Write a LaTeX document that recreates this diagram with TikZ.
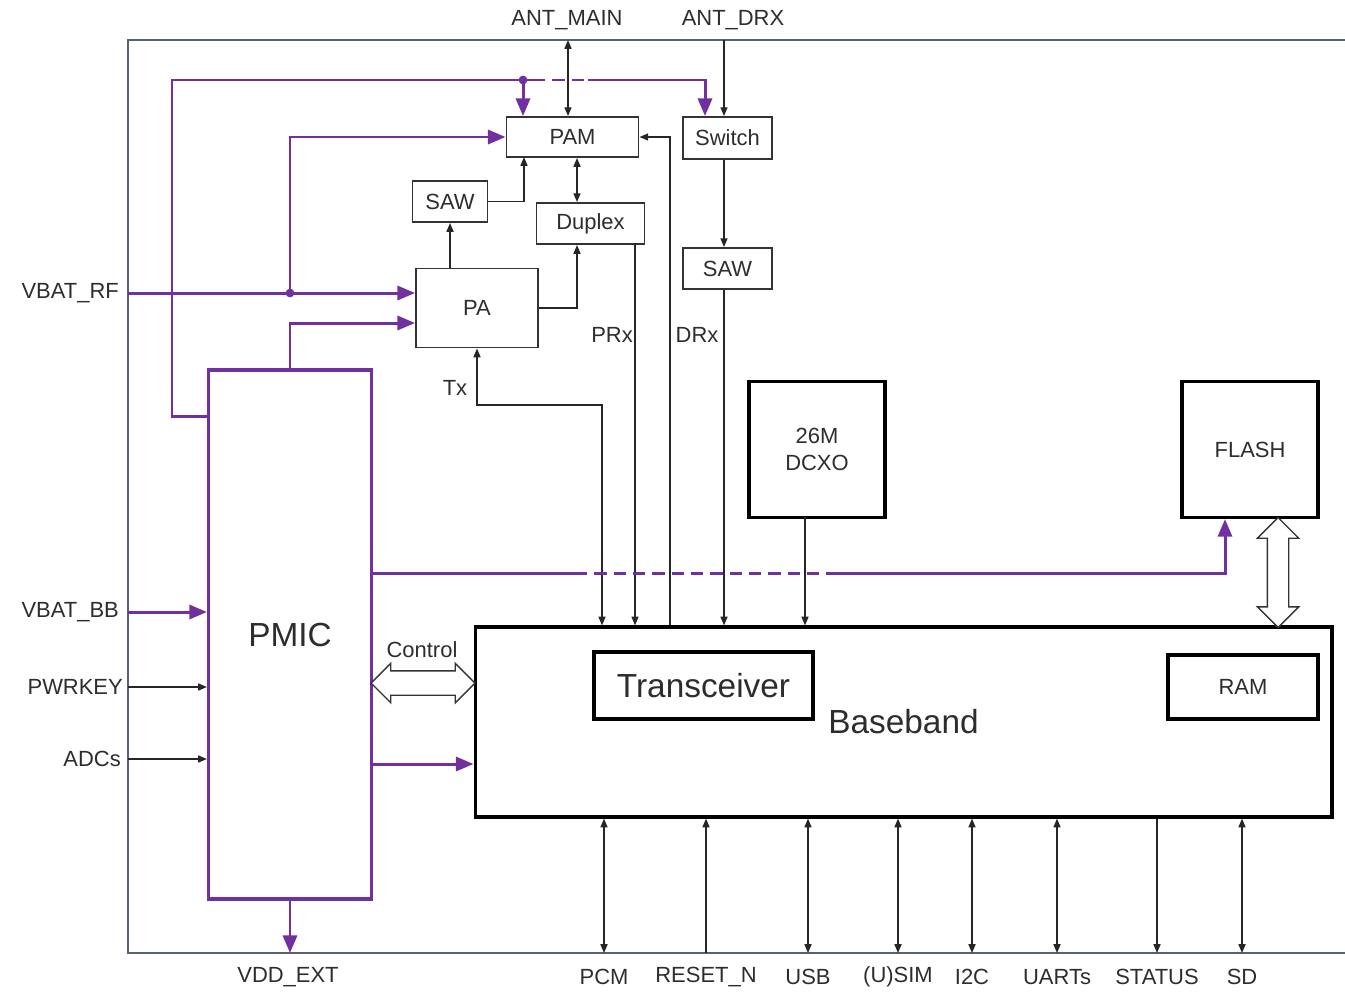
\documentclass[tikz,border=0pt]{standalone}
\usepackage{fontspec}
\setmainfont{Liberation Sans}
\usepackage{tikz}
\usetikzlibrary{positioning, arrows.meta, calc, shapes.arrows}
\definecolor{pwrline}{RGB}{112, 48, 160}
\definecolor{framegray}{RGB}{88, 98, 118}
\definecolor{txtgray}{RGB}{45, 45, 45}

\begin{document}
\begin{tikzpicture}[x=0.02cm, y=-0.02cm,
    every node/.style={text=txtgray, font=\fontsize{12.5}{15.5}\selectfont},
    rfbox/.style={draw=black!80, line width=1.1pt, inner sep=0pt},
    chipbox/.style={draw=black, line width=1.8pt, inner sep=0pt, align=center},
    pmicbox/.style={draw=pwrline, line width=1.8pt, inner sep=0pt, font=\fontsize{19}{22}\selectfont},
    biglabel/.style={font=\fontsize{19}{22}\selectfont},
    hollow/.style={double arrow, draw=black!80, fill=white, line width=0.8pt, inner xsep=0pt},
    >={Triangle[length=5pt, width=4pt]},
    sig/.style={draw=black!85, line width=0.8pt},
    power/.style={draw=pwrline, line width=1.7pt},
    powerarrow/.style={power, -{Triangle[length=10pt, width=8pt]}},
    gap/.style={dash pattern=on 7pt off 4pt}
]
    \useasboundingbox (0,0) rectangle (1345,991);

    % Rahmen
    \draw[framegray, line width=1.1pt] (1345,40) -- (128,40) -- (128,953) -- (1345,953);

    % Bloecke
    \node (pam) [rfbox, minimum width=2.64cm, minimum height=0.8cm] at (572.5,137) {PAM};
    \node (switch) [rfbox, minimum width=1.78cm, minimum height=0.84cm] at (727.5,138) {Switch};
    \node (sawtx) [rfbox, minimum width=1.5cm, minimum height=0.82cm] at (450,201.5) {SAW};
    \node (duplex) [rfbox, minimum width=2.16cm, minimum height=0.82cm] at (590.5,223.5) {Duplex};
    \node (sawdrx) [rfbox, minimum width=1.78cm, minimum height=0.82cm] at (727.5,268.5) {SAW};
    \node (pa) [rfbox, minimum width=2.44cm, minimum height=1.58cm] at (477,308) {PA};
    \node (pmic) [pmicbox, minimum width=3.26cm, minimum height=10.58cm] at (290,634.5) {PMIC};
    \node (dcxo) [chipbox, minimum width=2.72cm, minimum height=2.72cm] at (817,449.5) {26M\\DCXO};
    \node (flash) [chipbox, minimum width=2.72cm, minimum height=2.72cm] at (1250,449.5) {FLASH};
    \node (bb) [chipbox, minimum width=17.14cm, minimum height=3.8cm, biglabel] at (903.5,722) {Baseband};
    \node (trx) [chipbox, minimum width=4.38cm, minimum height=1.34cm, biglabel] at (703.5,685.5) {Transceiver};
    \node (ram) [chipbox, minimum width=3cm, minimum height=1.28cm] at (1243,687) {RAM};

    % Beschriftungen
    \node (antmain) at (567,20) {ANT\_MAIN};
    \node (antdrx) at (733,20) {ANT\_DRX};
    \node (vbatrf) [anchor=east] at (125,293) {VBAT\_RF};
    \node (vbatbb) [anchor=east] at (125,612) {VBAT\_BB};
    \node (pwrkey) [anchor=east] at (129,687) {PWRKEY};
    \node (adcs) [anchor=east] at (127,759) {ADCs};
    \node (vddext) at (288,977) {VDD\_EXT};
    \node (txlbl) at (455,388) {Tx};
    \node (prxlbl) at (612,335) {PRx};
    \node (drxlbl) at (697,335) {DRx};
    \node (ctllbl) at (422,650) {Control};

    % Hilfspunkte
    \coordinate (mainant) at (568,40);
    \coordinate (drxant) at (724,40);
    \coordinate (bbfb) at (670,137);
    \coordinate (dupx) at (577,180);
    \coordinate (pamtx) at (524,157);
    \coordinate (txbend) at (602,405);
    \coordinate (prx) at (635,243);
    \coordinate (clk) at (805,517);
    \coordinate (framebot) at (128,953);
    \coordinate (rfin) at (128,293);
    \coordinate (rfjoin) at (290,293);
    \coordinate (loopl) at (172,80);
    \coordinate (dasha) at (533,80);
    \coordinate (dashb) at (588,80);
    \coordinate (pamsup) at (523,80);
    \coordinate (swsup) at (705,80);
    \coordinate (flda) at (575,573);
    \coordinate (fldb) at (835,573);
    \coordinate (flin) at (1225,573);
    \coordinate (bbin) at (128,612);
    \coordinate (bbsup) at (474,764);
    \coordinate (keyin) at (128,687);
    \coordinate (adcin) at (128,759);

    % HF-Pfade
    \draw[sig, <->] (mainant) -- (mainant |- pam.north);
    \draw[sig, ->] (drxant) -- (drxant |- switch.north);
    \draw[sig, ->] (drxant |- switch.south) -- (drxant |- sawdrx.north);
    \draw[sig, ->] (drxant |- sawdrx.south) -- (drxant |- bb.north);
    \draw[sig, ->] (bbfb |- bb.north) |- (pam.east);
    \draw[sig, <->] (dupx |- pam.south) -- (dupx |- duplex.north);
    \draw[sig, ->] (sawtx.east) -| (pamtx);
    \draw[sig, ->] (pa.north -| sawtx.south) -- (sawtx.south);
    \draw[sig, ->] (pa.east) -| (dupx |- duplex.south);
    \draw[sig, ->] (prx) -- (prx |- bb.north);
    \draw[sig, <->] (pa.south) |- (txbend) -- (txbend |- bb.north);
    \draw[sig, ->] (clk) -- (clk |- bb.north);

    % Versorgung
    \draw[powerarrow] (rfin) -- (rfin -| pa.west);
    \fill[pwrline] (rfjoin) circle (2.5pt);
    \draw[powerarrow] (rfjoin) |- (pam.west);
    \draw[powerarrow] (pmic.north) |- ($(pa.west)+(0,15)$);
    \draw[power] ($(pmic.north west)+(0,48)$) -| (loopl) -- (dasha);
    \draw[power, gap] (dasha) -- (dashb);
    \draw[powerarrow] (dashb) -| (swsup |- switch.north);
    \fill[pwrline] (pamsup) circle (2.5pt);
    \draw[powerarrow] (pamsup) -- (pamsup |- pam.north);
    \draw[power] (flda -| pmic.east) -- (flda);
    \draw[power, gap] (flda) -- (fldb);
    \draw[powerarrow] (fldb) -| (flin |- flash.south);
    \draw[powerarrow] (bbin) -- (bbin -| pmic.west);
    \draw[powerarrow] (bbsup -| pmic.east) -- (bbsup -| bb.west);
    \draw[powerarrow] (pmic.south) -- (pmic.south |- framebot);

    \draw[sig, ->] (keyin) -- (keyin -| pmic.west);
    \draw[sig, ->] (adcin) -- (adcin -| pmic.west);

    % Busse
    \node (ctlbus) [hollow, minimum height=2.08cm, inner ysep=0.23cm, double arrow head extend=0.15cm] at (423,683) {};
    \node (membus) [hollow, rotate=90, minimum height=2.2cm, inner ysep=0.2cm, double arrow head extend=0.2cm] at (1278,572.5) {};

    % Schnittstellen
    \foreach \x/\name in {604/PCM, 808/USB, 898/{(U)SIM}, 972/I2C, 1057/UARTs, 1242/SD}{
        \node (io\x) at (\x,977) {\name};
        \draw[sig, <->] (io\x |- bb.south) -- (io\x |- framebot);
    }
    \node (resetn) at (706,977) {RESET\_N};
    \draw[sig, ->] (resetn |- framebot) -- (resetn |- bb.south);
    \node (status) at (1157,977) {STATUS};
    \draw[sig, ->] (status |- bb.south) -- (status |- framebot);
\end{tikzpicture}
\end{document}
